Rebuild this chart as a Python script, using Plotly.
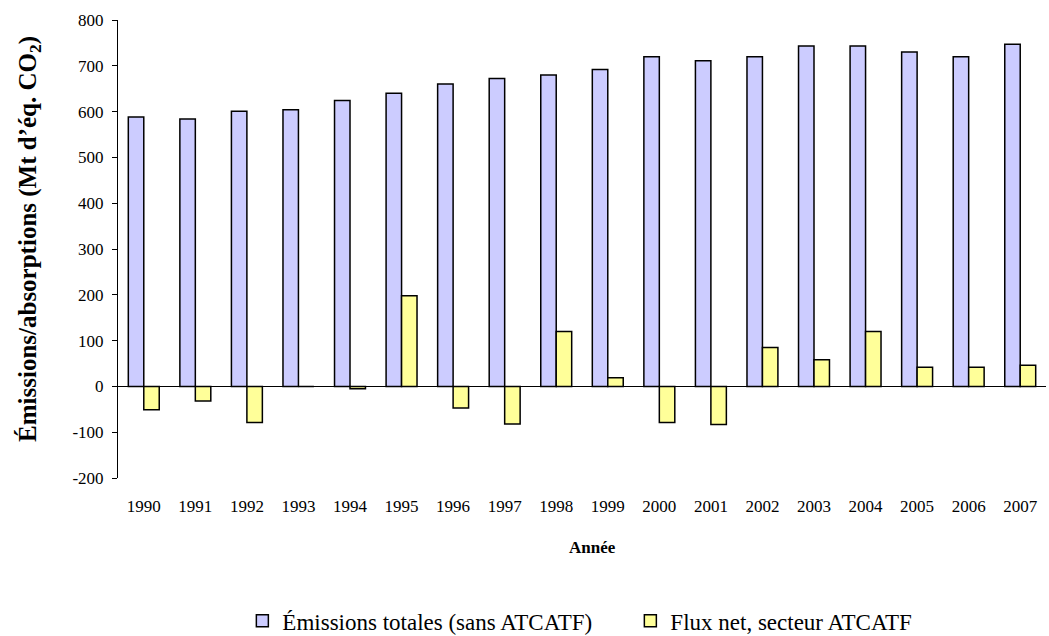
import plotly.graph_objects as go

years = [str(y) for y in range(1990, 2008)]
emissions_totales = [588, 584, 601, 604, 624, 640, 660, 672, 680, 692, 720, 711, 720, 743, 743, 730, 720, 747]
flux_net = [-51, -32, -79, 0, -5, 198, -47, -82, 120, 19, -79, -83, 85, 58, 120, 42, 42, 46]
y_tickvals = [-200, -100, 0, 100, 200, 300, 400, 500, 600, 700, 800]
y_ticktext = ["-200", "-100", "0", "100", "200", "300", "400", "500", "600", "700", "800"]
y_title = "<b>Émissions/absorptions (Mt d’éq. CO<sub>2</sub>)</b>"
x_title = "<b>Année</b>"

serif = "Liberation Serif"

fig = go.Figure()
fig.add_trace(go.Bar(
    x=years, y=emissions_totales, name="Émissions totales (sans ATCATF)",
    marker=dict(color="#CCCCFF", line=dict(color="#000000", width=1.5)),
))
fig.add_trace(go.Bar(
    x=years, y=flux_net, name="Flux net, secteur ATCATF",
    marker=dict(color="#FFFF99", line=dict(color="#000000", width=1.5)),
))

fig.add_annotation(
    text=y_title, xref="paper", yref="paper", x=-0.0948, y=0.522,
    xanchor="center", yanchor="middle", textangle=-90, showarrow=False,
    font=dict(size=25, family=serif, color="black"),
)
fig.add_annotation(
    text=x_title, xref="paper", yref="paper", x=0.511, y=-0.151,
    xanchor="center", yanchor="middle", showarrow=False,
    font=dict(size=17, family=serif, color="black"),
)

fig.update_layout(
    width=1049, height=636,
    margin=dict(l=118, r=3, t=20, b=158, autoexpand=False),
    paper_bgcolor="white", plot_bgcolor="white",
    barmode="group", bargap=0.4, bargroupgap=0,
    font=dict(family=serif, size=17, color="black"),
    showlegend=True,
    legend=dict(orientation="h", x=0.134, xanchor="left", y=-0.312, yanchor="middle",
                font=dict(size=23, family=serif, color="black"), itemwidth=30,
                entrywidth=343, entrywidthmode="pixels", tracegroupgap=0),
    xaxis=dict(
        showline=False, showgrid=False, zeroline=False, ticks="",
        ticklabelstandoff=16, tickfont=dict(size=17, family=serif),
    ),
    yaxis=dict(
        range=[-200, 800], tickvals=y_tickvals, ticktext=y_ticktext, showgrid=False,
        showline=True, linecolor="black", linewidth=1,
        ticks="outside", ticklen=5, tickcolor="black", ticklabelstandoff=5,
        zeroline=True, zerolinecolor="black", zerolinewidth=1,
        tickfont=dict(size=17, family=serif),
    ),
)

fig.write_html("out.html")
